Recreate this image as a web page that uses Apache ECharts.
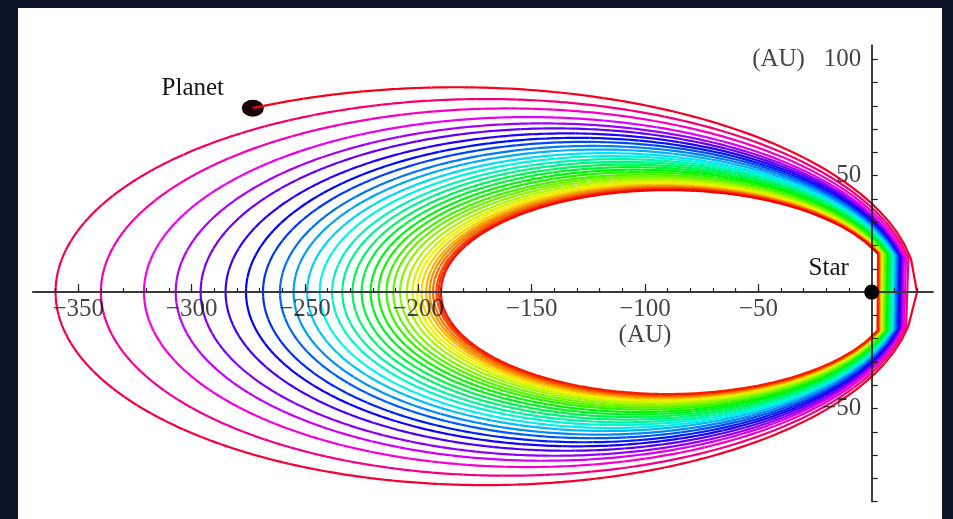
<!DOCTYPE html>
<html><head><meta charset="utf-8">
<script src="https://cdn.jsdelivr.net/npm/echarts@6/dist/echarts.min.js"></script>
<style>
html,body{margin:0;padding:0;background:#0c1528;width:953px;height:519px;overflow:hidden}
#chart{position:absolute;left:18px;top:8px;width:924px;height:511px;background:#ffffff}
</style></head><body><div id="chart"></div>
<script>
// Orbit elements, one entry per revolution (AU).
// Index 0 is the initial partial orbit that starts at the planet.
const apoapsis = [387, 360, 340, 321, 307, 296, 285, 276, 268.5, 261, 255, 249, 243.5, 238, 233.5, 229,
                  225, 221, 217.5, 214, 211, 208, 205, 202.5, 200.5, 198.5, 196.5, 195, 193.5, 192, 191, 190];
const periapsis = [20, 19.1, 18.3, 17.6, 17.1, 16.7, 16.3, 15.9, 15.5, 15.1, 14.7, 14.3, 14.0, 13.7, 13.4, 13.1,
                   12.8, 12.5, 12.2, 11.9, 11.7, 11.5, 11.3, 11.1, 10.9, 10.7, 10.6, 10.5, 10.4, 10.3, 10.2, 10.1];
const planet = [-273, 79];
const star = [0, 0];
const xTickLabels = [-350, -300, -250, -200, -150, -100, -50];
const yTickLabels = [-50, 50, 100];

const xMin = -370, xMax = 27, yMin = -90, yMax = 106;
const xMinorTicks = []; for (let v = -360; v <= 20; v += 10) xMinorTicks.push(v);
const yMinorTicks = []; for (let v = -90; v <= 100; v += 10) yMinorTicks.push(v);

function solveKepler(M, e) {
  let E = M + 0.85 * e * Math.sign(Math.sin(M) || 1);
  for (let i = 0; i < 60; i++) {
    const d = (E - e * Math.sin(E) - M) / (1 - e * Math.cos(E));
    E -= d;
    if (Math.abs(d) < 1e-12) break;
  }
  return E;
}
function hsv(h, s, v) {
  h = (((h % 1) + 1) % 1) * 6;
  const i = Math.floor(h), f = h - i, p = v * (1 - s), q = v * (1 - s * f), t = v * (1 - s * (1 - f));
  const m = [[v, t, p], [q, v, p], [p, v, t], [p, q, v], [t, p, v], [v, p, q]][i % 6];
  return 'rgb(' + m.map(c => Math.round(c * 255)).join(',') + ')';
}

// Trajectory: Kepler ellipses; the periapsis passage is a single straight step (coarse time step of the original plot)
const samplesPerRef = 170, sub = 4;
const aRef = (apoapsis[1] + periapsis[1]) / 2;
const pts = [];
let tOff = 0;
for (let k = 0; k < apoapsis.length; k++) {
  const Q = apoapsis[k], q = periapsis[k];
  const a = (Q + q) / 2, e = (Q - q) / (Q + q), b = Math.sqrt(Q * q);
  const period = Math.pow(a / aRef, 1.5);
  const n = Math.round(samplesPerRef * period);
  const dM = 2 * Math.PI / n;
  let M0 = 0;
  if (k === 0) {
    const E0 = 2 * Math.PI - Math.acos(planet[0] / a + e);
    M0 = E0 - e * Math.sin(E0);
    pts.push([a * (Math.cos(E0) - e), -b * Math.sin(E0), tOff]);
  }
  const steps = (n - 1) * sub;
  for (let j = 0; j <= steps; j++) {
    const M = dM / 2 + j * dM / sub;
    if (M <= M0) continue;
    const E = solveKepler(M, e);
    pts.push([a * (Math.cos(E) - e), -b * Math.sin(E), tOff + (M - M0) / (2 * Math.PI) * period]);
  }
  if (k === 0) pts.push([q, 0, tOff + (2 * Math.PI - M0) / (2 * Math.PI) * period]);
  tOff += (2 * Math.PI - M0) / (2 * Math.PI) * period;
}
const T = tOff;
const CH = 10;
const lineData = [];
for (let i = 0; i < pts.length - 1; i += CH) {
  const seg = pts.slice(i, i + CH + 1);
  const tm = (seg[0][2] + seg[seg.length - 1][2]) / 2;
  lineData.push({
    coords: seg.map(p => [p[0], p[1]]),
    lineStyle: { color: hsv(0.985 * (1 - tm / T), 1, 0.96) }
  });
}

const font = 'Liberation Serif, Times New Roman, serif';
const txt = '#141414';
const fs = 25;
const minus = v => (v < 0 ? '\u2212' + Math.abs(v) : String(v));
const chart = echarts.init(document.getElementById('chart'), null, { renderer: 'canvas' });
chart.setOption({
  animation: false,
  backgroundColor: '#ffffff',
  grid: { left: 14.9, top: 37.3, width: 900, height: 456.3, containLabel: false, outerBoundsMode: 'none' },
  xAxis: [{
    type: 'value', min: xMin, max: xMax, z: 5,
    axisLine: { show: true, onZero: true, lineStyle: { color: '#3a3a3a', width: 2 } },
    axisTick: { show: true, inside: true, length: 4, customValues: xMinorTicks, lineStyle: { color: '#222', width: 1.2 } },
    axisLabel: { show: false },
    splitLine: { show: false }
  }, {
    type: 'value', min: xMin, max: xMax, z: 5, position: 'bottom',
    axisLine: { show: false, onZero: true, onZeroAxisIndex: 0 },
    axisTick: { show: true, inside: true, length: 8, customValues: xTickLabels, lineStyle: { color: '#222', width: 1.2 } },
    axisLabel: { show: false },
    splitLine: { show: false }
  }],
  yAxis: {
    type: 'value', min: yMin, max: yMax, z: 5,
    axisLine: { show: true, onZero: true, lineStyle: { color: '#111', width: 1.6 } },
    axisTick: { show: true, inside: true, length: 6, customValues: yMinorTicks, lineStyle: { color: '#222', width: 1.2 } },
    axisLabel: { show: false },
    splitLine: { show: false }
  },
  series: [{
    type: 'scatter', z: 1, silent: true,
    data: [planet],
    symbol: 'circle', symbolSize: [22, 17],
    itemStyle: { color: '#1a0606', opacity: 1 },
    label: { show: true, formatter: 'Planet', position: 'inside', offset: [-60, -20],
             fontFamily: font, fontSize: fs, color: txt }
  }, {
    type: 'lines', coordinateSystem: 'cartesian2d', polyline: true, z: 2, silent: true,
    lineStyle: { width: 2.2, opacity: 1 },
    data: lineData
  }, {
    type: 'scatter', z: 10, silent: true,
    data: [star],
    symbol: 'circle', symbolSize: 15,
    itemStyle: { color: '#000000', opacity: 1 },
    label: { show: true, formatter: 'Star', position: 'inside', offset: [-43, -24],
             fontFamily: font, fontSize: fs, color: txt }
  }, {
    // x tick labels placed on the x axis line (which sits at y = 0)
    type: 'scatter', z: 8, silent: true,
    data: xTickLabels.map(v => [v, 0]),
    symbol: 'circle', symbolSize: 1,
    itemStyle: { color: 'rgba(0,0,0,0)' },
    label: { show: true, position: 'bottom', distance: 4, align: 'center', verticalAlign: 'top',
             fontFamily: font, fontSize: fs, lineHeight: 26, color: txt,
             formatter: p => p.value[0] === -100 ? '\u2212100\n(AU)' : minus(p.value[0]) }
  }, {
    // y tick labels placed left of the y axis line (which sits at x = 0)
    type: 'scatter', z: 8, silent: true,
    data: yTickLabels.map(v => [0, v]),
    symbol: 'circle', symbolSize: 1,
    itemStyle: { color: 'rgba(0,0,0,0)' },
    label: { show: true, position: 'left', distance: 10,
             fontFamily: font, fontSize: fs, color: txt,
             formatter: p => p.value[1] === 100 ? '(AU)   100' : minus(p.value[1]) }
  }]
});
</script></body></html>
